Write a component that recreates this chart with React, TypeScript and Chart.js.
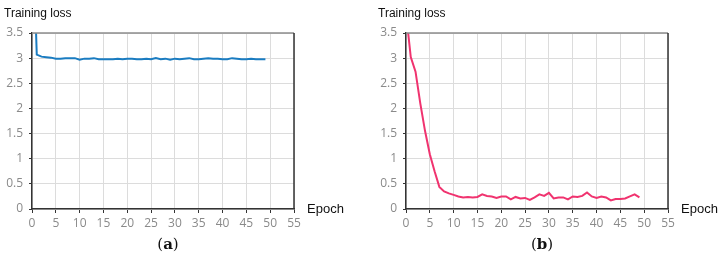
import React, { useEffect, useRef } from "react";
import { Chart, registerables } from "chart.js";

Chart.register(...registerables);

const epochs: number[] = Array.from({ length: 50 }, (_, i) => i);
const xTicks: number[] = [0, 5, 10, 15, 20, 25, 30, 35, 40, 45, 50, 55];
const yTicks: number[] = [0, 0.5, 1, 1.5, 2, 2.5, 3, 3.5];

const lossA: number[] = [
  6.0, 3.07, 3.03, 3.02, 3.01, 2.99, 2.99, 3.0, 3.0, 3.0,
  2.97, 2.99, 2.99, 3.0, 2.98, 2.98, 2.98, 2.98, 2.99, 2.98,
  2.99, 2.99, 2.98, 2.98, 2.99, 2.98, 3.0, 2.98, 2.99, 2.97,
  2.99, 2.98, 2.99, 3.0, 2.98, 2.98, 2.99, 3.0, 2.99, 2.99,
  2.98, 2.98, 3.0, 2.99, 2.98, 2.98, 2.99, 2.98, 2.98, 2.98,
];

const lossB: number[] = [
  3.9, 3.02, 2.73, 2.1, 1.55, 1.09, 0.75, 0.44, 0.35, 0.31,
  0.28, 0.25, 0.23, 0.24, 0.23, 0.24, 0.29, 0.26, 0.25, 0.22,
  0.25, 0.25, 0.19, 0.24, 0.21, 0.22, 0.18, 0.23, 0.29, 0.26,
  0.32, 0.21, 0.23, 0.23, 0.19, 0.25, 0.24, 0.26, 0.33, 0.25,
  0.22, 0.25, 0.23, 0.17, 0.2, 0.2, 0.21, 0.25, 0.29, 0.23,
];

const TICK_FONT = { family: "'Open Sans', 'DejaVu Sans', sans-serif", size: 12 };
const TICK_COLOR = "#8a8a8a";

const framePlugin = {
  id: "frame",
  afterDraw(chart: any) {
    const { ctx, chartArea } = chart;
    const { left, right, top, bottom } = chartArea;
    ctx.save();
    ctx.lineWidth = 1.5;
    ctx.strokeStyle = "#8c8c8c";
    ctx.beginPath();
    ctx.moveTo(left, top);
    ctx.lineTo(right, top);
    ctx.stroke();
    ctx.strokeStyle = "#333";
    ctx.beginPath();
    ctx.moveTo(right, top);
    ctx.lineTo(right, bottom);
    ctx.stroke();
    ctx.restore();
  },
};

function LossChart(props: { values: number[]; color: string; left: number; label: string }) {
  const ref = useRef<HTMLCanvasElement>(null);
  useEffect(() => {
    if (!ref.current) return;
    const chart = new Chart(ref.current, {
      type: "line",
      data: {
        datasets: [
          {
            data: epochs.map((e, i) => ({ x: e, y: props.values[i] })),
            borderColor: props.color,
            borderWidth: 2,
            pointRadius: 0,
            tension: 0,
          },
        ],
      },
      options: {
        animation: false,
        responsive: false,
        layout: { padding: { top: 33, right: 51, bottom: 0, left: 0 } },
        plugins: { legend: { display: false }, tooltip: { enabled: false } },
        scales: {
          x: {
            type: "linear",
            min: 0,
            max: 55,
            afterBuildTicks: (s: any) => {
              s.ticks = xTicks.map((v) => ({ value: v }));
            },
            afterFit: (s: any) => {
              s.height = 26;
            },
            ticks: { font: TICK_FONT, color: TICK_COLOR, padding: 3, maxRotation: 0, autoSkip: false },
            grid: { color: "#dcdcdc", tickColor: "#333", tickLength: 4, lineWidth: 1 },
            border: { color: "#333", width: 1.5 },
          },
          y: {
            type: "linear",
            min: 0,
            max: 3.5,
            afterBuildTicks: (s: any) => {
              s.ticks = yTicks.map((v) => ({ value: v }));
            },
            afterFit: (s: any) => {
              s.width = 32;
            },
            ticks: { font: TICK_FONT, color: TICK_COLOR, padding: 6, callback: (v: any) => String(v) },
            grid: { color: "#dcdcdc", tickColor: "#333", tickLength: 3, lineWidth: 1 },
            border: { color: "#333", width: 1.5 },
          },
        },
      },
      plugins: [framePlugin],
    });
    return () => chart.destroy();
  }, []);
  return (
    <div style={{ position: "absolute", left: props.left, top: 0, width: 345, height: 262 }}>
      <canvas ref={ref} width={345} height={235} style={{ position: "absolute", left: 0, top: 0 }} />
      <div
        style={{
          position: "absolute",
          left: 4,
          top: 6,
          font: "12px 'Liberation Sans', Arial, sans-serif",
          color: "#111",
        }}
      >
        Training loss
      </div>
      <div
        style={{
          position: "absolute",
          left: 307,
          top: 201,
          font: "13px 'Liberation Sans', Arial, sans-serif",
          color: "#111",
        }}
      >
        Epoch
      </div>
      <div
        style={{
          position: "absolute",
          left: 148,
          top: 235,
          width: 40,
          textAlign: "center",
          font: "15px 'DejaVu Serif', 'Liberation Serif', serif",
          color: "#111",
        }}
      >
        (<b>{props.label}</b>)
      </div>
    </div>
  );
}

export default function App() {
  return (
    <div
      style={{
        position: "fixed",
        left: 0,
        top: 0,
        width: 719,
        height: 262,
        background: "#fff",
        overflow: "hidden",
      }}
    >
      <LossChart values={lossA} color="#1a7cc1" left={0} label="a" />
      <LossChart values={lossB} color="#f0336f" left={374} label="b" />
    </div>
  );
}
